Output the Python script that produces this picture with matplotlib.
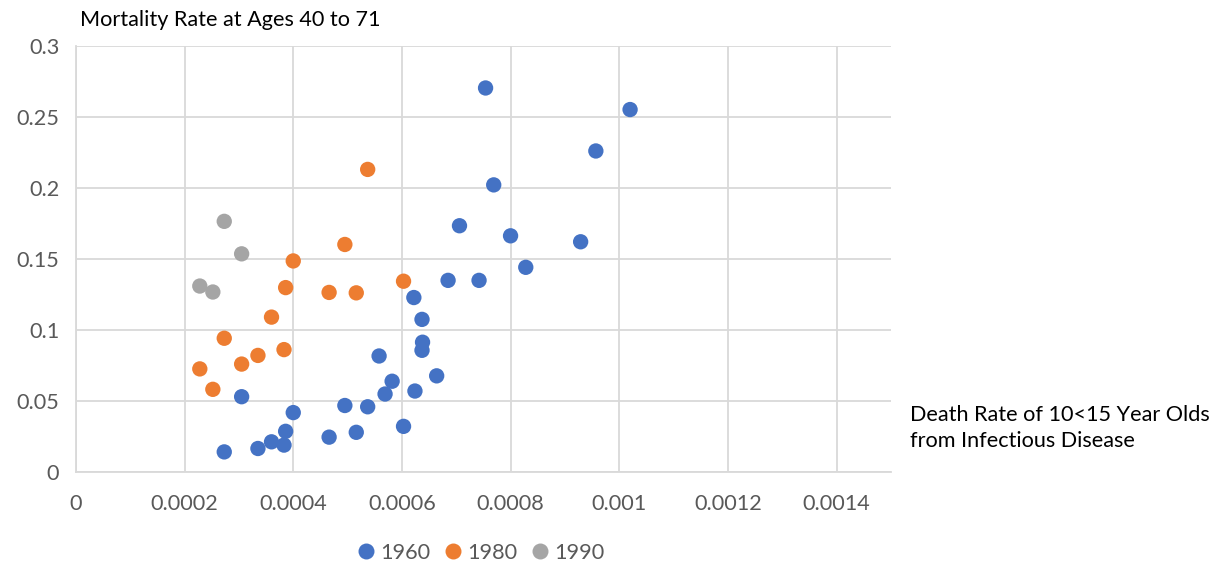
import matplotlib
matplotlib.use("Agg")
import matplotlib.pyplot as plt
from matplotlib.lines import Line2D

plt.rcParams['font.family'] = ['Lato', 'DejaVu Sans']

# 1960 series
x1960 = [0.000273, 0.000335, 0.000360, 0.000383, 0.000386, 0.000400, 0.000305,
         0.000466, 0.000495, 0.000516, 0.000537, 0.000558, 0.000569, 0.000582,
         0.000603, 0.000622, 0.000624, 0.000637, 0.000638, 0.000637, 0.000664,
         0.000685, 0.000742, 0.000828, 0.000929, 0.000800, 0.000706, 0.000769,
         0.000957, 0.001020, 0.000754]
y1960 = [0.0142, 0.0166, 0.0213, 0.0190, 0.0287, 0.0419, 0.0531,
         0.0246, 0.0469, 0.0280, 0.0460, 0.0818, 0.0550, 0.0640,
         0.0322, 0.1230, 0.0571, 0.1076, 0.0915, 0.0858, 0.0678,
         0.1351, 0.1351, 0.1443, 0.1623, 0.1665, 0.1736, 0.2024,
         0.2263, 0.2555, 0.2707]

# 1980 series
x1980 = [0.000228, 0.000252, 0.000273, 0.000305, 0.000335, 0.000360, 0.000383,
         0.000386, 0.000466, 0.000516, 0.000603, 0.000400, 0.000495, 0.000537]
y1980 = [0.0727, 0.0583, 0.0943, 0.0761, 0.0822, 0.1092, 0.0863,
         0.1300, 0.1266, 0.1263, 0.1345, 0.1488, 0.1604, 0.2133]

# 1990 series
x1990 = [0.000228, 0.000252, 0.000273, 0.000305]
y1990 = [0.1311, 0.1269, 0.1767, 0.1538]

series_names = ['1960', '1980', '1990']
colors = ['#4472C4', '#ED7D31', '#A5A5A5']

x_ticks = [0, 0.0002, 0.0004, 0.0006, 0.0008, 0.001, 0.0012, 0.0014]
x_tick_labels = ['0', '0.0002', '0.0004', '0.0006', '0.0008', '0.001', '0.0012', '0.0014']
y_ticks = [0, 0.05, 0.1, 0.15, 0.2, 0.25, 0.3]
y_tick_labels = ['0', '0.05', '0.1', '0.15', '0.2', '0.25', '0.3']

FS = 15.6

fig = plt.figure(figsize=(12.17, 5.66), dpi=100)
ax = fig.add_axes([0.0624, 0.166, 0.732 - 0.0624, 0.918 - 0.166])

for xs, ys, c in zip([x1960, x1980, x1990], [y1960, y1980, y1990], colors):
    ax.scatter(xs, ys, s=122, color=c, edgecolors='none', zorder=3, clip_on=False)

ax.set_xlim(0, 0.0015)
ax.set_ylim(0, 0.3)
ax.set_xticks(x_ticks)
ax.set_xticklabels(x_tick_labels)
ax.set_yticks(y_ticks)
ax.set_yticklabels(y_tick_labels)
ax.grid(True, color='#d9d9d9', linewidth=1.3)
ax.set_axisbelow(True)
for side in ['top', 'right']:
    ax.spines[side].set_visible(False)
for side in ['left', 'bottom']:
    ax.spines[side].set_color('#d9d9d9')
    ax.spines[side].set_linewidth(1.3)
ax.tick_params(length=0, labelsize=FS, colors='#595959')
ax.tick_params(axis='x', pad=16)
ax.tick_params(axis='y', pad=12)

fig.text(80 / 1217, 1 - 20 / 566, 'Mortality Rate at Ages 40 to 71', fontsize=FS,
         color='#000000', ha='left', va='center')
fig.text(910 / 1217, 1 - 428 / 566, 'Death Rate of 10<15 Year Olds\nfrom Infectious Disease',
         fontsize=FS, color='#000000', ha='left', va='center', linespacing=1.4)

handles = [Line2D([0], [0], marker='o', linestyle='none', markersize=11.5,
                  markerfacecolor=c, markeredgecolor='none') for c in colors]
leg = fig.legend(handles, series_names, loc='center', bbox_to_anchor=(478 / 1217, 1 - 553 / 566),
                 ncol=3, frameon=False, fontsize=FS, handletextpad=0.0,
                 columnspacing=0.4, handlelength=1.3)
for t in leg.get_texts():
    t.set_color('#595959')

fig.savefig('out.png', dpi=100)
